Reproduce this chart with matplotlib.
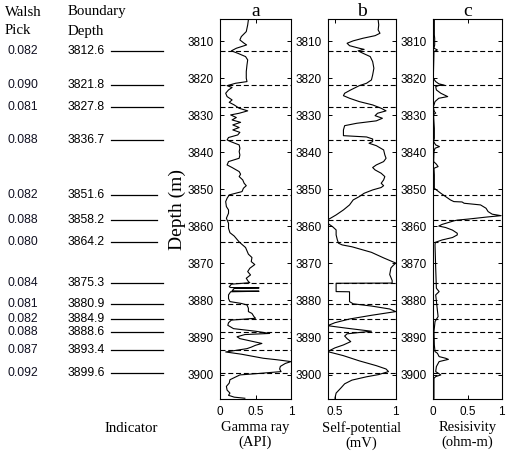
import matplotlib
matplotlib.use("Agg")
import matplotlib.pyplot as plt

# ---------------- data ----------------
boundary_depth = [3812.6, 3821.8, 3827.8, 3836.7, 3851.6, 3858.2, 3864.2,
                  3875.3, 3880.9, 3884.9, 3888.6, 3893.4, 3899.6]
walsh_pick = ["0.082", "0.090", "0.081", "0.088", "0.082", "0.088", "0.080",
              "0.084", "0.081", "0.082", "0.088", "0.087", "0.092"]

gamma_depth = [3804.2, 3805.6, 3807.4, 3808.75, 3809.65, 3810.55, 3811.0, 3811.9, 3812.6, 3813.25,
               3814.15, 3815.05, 3816.4, 3818.2, 3820.0, 3820.9, 3821.35, 3822.0, 3822.5, 3823.15,
               3824.05, 3824.95, 3825.85, 3826.5, 3827.2, 3828.1, 3828.8, 3829.45, 3829.9, 3830.6,
               3831.25, 3831.9, 3832.6, 3833.3, 3833.95, 3834.6, 3835.3, 3836.0, 3836.65, 3837.1,
               3838.0, 3838.9, 3839.8, 3840.7, 3841.6, 3842.5, 3843.4, 3844.1, 3844.75, 3845.2,
               3845.9, 3846.55, 3847.45, 3848.35, 3849.0, 3849.7, 3850.6, 3851.5, 3852.4, 3853.3,
               3854.65, 3855.55, 3856.45, 3857.8, 3859.15, 3860.5, 3861.7, 3862.6, 3863.5, 3864.2,
               3865.7, 3867.5, 3868.4, 3869.5, 3870.3, 3871.3, 3872.2, 3873.1, 3874.0, 3874.9,
               3875.2, 3875.6, 3876.3, 3876.5, 3876.6, 3876.75, 3877.4, 3877.5, 3877.65, 3878.5,
               3879.5, 3880.3, 3880.8, 3881.2, 3882.1, 3883.0, 3883.5, 3884.4, 3884.8, 3885.3,
               3886.0, 3886.7, 3887.6, 3888.3, 3888.9, 3889.2, 3889.8, 3890.3, 3890.8, 3891.6,
               3892.1, 3892.6, 3893.0, 3893.4, 3893.9, 3894.5, 3895.6, 3896.0, 3896.5, 3897.0,
               3897.8, 3898.5, 3899.2, 3899.7, 3900.1, 3901.4, 3902.3, 3903.2, 3904.2, 3905.0,
               3905.6, 3906.1, 3906.4]
gamma_val = [0.40, 0.39, 0.37, 0.30, 0.28, 0.34, 0.375, 0.23, 0.16, 0.25,
             0.36, 0.39, 0.38, 0.37, 0.37, 0.38, 0.22, 0.10, 0.17, 0.12,
             0.08, 0.10, 0.17, 0.13, 0.20, 0.27, 0.39, 0.27, 0.15, 0.23,
             0.17, 0.29, 0.18, 0.27, 0.18, 0.28, 0.25, 0.12, 0.10, 0.15,
             0.27, 0.28, 0.27, 0.28, 0.27, 0.12, 0.10, 0.17, 0.23, 0.27,
             0.29, 0.27, 0.32, 0.34, 0.37, 0.33, 0.31, 0.13, 0.10, 0.08,
             0.09, 0.12, 0.12, 0.09, 0.12, 0.12, 0.14, 0.20, 0.24, 0.27,
             0.36, 0.40, 0.45, 0.44, 0.49, 0.42, 0.39, 0.43, 0.37, 0.40,
             0.42, 0.16, 0.13, 0.15, 0.55, 0.20, 0.17, 0.55, 0.15, 0.12,
             0.12, 0.14, 0.30, 0.38, 0.40, 0.40, 0.45, 0.48, 0.50, 0.16,
             0.12, 0.11, 0.19, 0.50, 0.70, 0.35, 0.24, 0.28, 0.40, 0.59,
             0.50, 0.44, 0.38, 0.25, 0.08, 0.30, 0.61, 0.80, 1.00, 0.92,
             0.85, 0.84, 0.86, 0.55, 0.28, 0.14, 0.13, 0.09, 0.10, 0.14,
             0.12, 0.20, 0.35]

sp_depth = [3804.2, 3805.6, 3806.95, 3807.85, 3808.5, 3809.2, 3809.9, 3810.55, 3811.2, 3811.9,
            3812.2, 3812.6, 3813.25, 3814.15, 3815.5, 3817.3, 3819.1, 3820.45, 3821.35, 3822.0,
            3823.15, 3824.05, 3824.7, 3825.4, 3826.3, 3827.2, 3828.1, 3828.8, 3829.45, 3830.1,
            3830.8, 3831.5, 3832.15, 3832.8, 3833.95, 3835.5, 3835.85, 3836.4, 3837.1, 3837.55,
            3838.2, 3839.35, 3840.7, 3841.6, 3842.5, 3843.4, 3844.1, 3844.75, 3845.65, 3846.55,
            3847.45, 3848.35, 3849.0, 3849.5, 3850.15, 3851.05, 3851.95, 3852.85, 3854.2, 3855.55,
            3856.9, 3858.25, 3859.15, 3860.05, 3860.95, 3862.3, 3863.65, 3864.55, 3865.0, 3865.5,
            3867.0, 3868.5, 3869.9, 3870.5, 3871.2, 3873.0, 3874.6, 3875.3, 3875.35, 3877.6,
            3877.65, 3880.3, 3880.9, 3881.5, 3882.3, 3883.0, 3884.0, 3885.0, 3886.0, 3886.8,
            3887.5, 3888.3, 3889.0, 3889.6, 3890.3, 3891.1, 3892.0, 3892.8, 3893.8, 3894.9,
            3896.3, 3897.6, 3898.5, 3899.2, 3900.0, 3900.6, 3901.5, 3902.5, 3903.6, 3905.0,
            3906.4]
sp_val = [0.855, 0.86, 0.855, 0.87, 0.83, 0.73, 0.65, 0.60, 0.62, 0.70,
          0.74, 0.69, 0.73, 0.79, 0.81, 0.82, 0.81, 0.80, 0.76, 0.70,
          0.63, 0.58, 0.57, 0.62, 0.70, 0.81, 0.88, 0.92, 0.85, 0.83,
          0.89, 0.84, 0.68, 0.58, 0.57, 0.57, 0.76, 0.81, 0.81, 0.78,
          0.84, 0.90, 0.91, 0.92, 0.90, 0.84, 0.81, 0.83, 0.88, 0.91,
          0.90, 0.88, 0.90, 0.88, 0.81, 0.74, 0.70, 0.65, 0.62, 0.57,
          0.51, 0.44, 0.44, 0.48, 0.51, 0.51, 0.52, 0.53, 0.56, 0.64,
          0.80, 0.90, 1.00, 0.98, 0.96, 0.95, 0.97, 0.97, 0.51, 0.51,
          0.62, 0.62, 0.65, 0.80, 0.95, 1.00, 0.80, 0.62, 0.50, 0.44,
          0.60, 0.80, 0.60, 0.58, 0.60, 0.63, 0.57, 0.50, 0.44, 0.57,
          0.70, 0.84, 0.92, 0.94, 0.86, 0.76, 0.64, 0.58, 0.55, 0.51,
          0.50]

res_depth = [3804.2, 3808.3, 3809.2, 3811.0, 3811.9, 3812.35, 3812.8, 3820.0, 3820.9, 3821.5,
             3821.85, 3821.95, 3822.25, 3823.15, 3824.05, 3824.95, 3825.4, 3826.3, 3827.2, 3827.75,
             3829.0, 3829.4, 3829.7, 3830.35, 3833.5, 3836.2, 3837.1, 3838.0, 3838.45, 3838.9,
             3839.8, 3842.5, 3843.2, 3843.85, 3844.3, 3846.1, 3849.7, 3850.15, 3851.05, 3851.95,
             3852.85, 3853.3, 3853.4, 3853.75, 3854.2, 3855.1, 3856.0, 3856.7, 3857.1, 3857.45,
             3858.0, 3858.3, 3858.5, 3858.9, 3859.45, 3859.9, 3860.3, 3861.0, 3861.85, 3862.3,
             3863.0, 3863.65, 3864.3, 3865.0, 3871.3, 3876.7, 3877.6, 3878.5, 3884.35, 3885.7,
             3888.4, 3892.0, 3893.8, 3894.25, 3895.15, 3895.6, 3895.9, 3896.5, 3897.85, 3899.2,
             3900.1, 3900.55, 3901.0, 3906.4]
res_val = [0.015, 0.015, 0.02, 0.02, 0.01, 0.06, 0.01, 0.0, 0.035, 0.08,
           0.16, 0.08, 0.035, 0.045, 0.11, 0.21, 0.08, 0.025, 0.01, 0.0,
           0.015, 0.035, 0.01, 0.005, 0.015, 0.015, 0.005, 0.035, 0.09, 0.025,
           0.01, 0.005, 0.045, 0.07, 0.01, 0.015, 0.015, 0.045, 0.11, 0.18,
           0.25, 0.30, 0.42, 0.45, 0.69, 0.77, 0.80, 0.86, 0.99, 0.79,
           0.52, 0.35, 0.30, 0.23, 0.13, 0.08, 0.18, 0.28, 0.35, 0.35,
           0.28, 0.13, 0.03, 0.025, 0.035, 0.045, 0.085, 0.035, 0.07, 0.025,
           0.01, 0.015, 0.025, 0.06, 0.085, 0.18, 0.22, 0.085, 0.045, 0.035,
           0.11, 0.035, 0.01, 0.01]

panel_titles = ["a", "b", "c"]
panel_xlabels = ["Gamma ray\n(API)", "Self-potential\n(mV)", "Resisivity\n(ohm-m)"]
panel_xticks = [[0, 0.5, 1], [0.5, 1], [0, 0.5, 1]]
panel_xtick_labels = [["0", "0.5", "1"], ["0.5", "1"], ["0", "0.5", "1"]]
panel_xlims = [(0, 1), (0.44, 1), (0, 1)]
depth_ticks = [3810, 3820, 3830, 3840, 3850, 3860, 3870, 3880, 3890, 3900]
depth_lim = (3906.6, 3804.0)

# ---------------- figure ----------------
W, H = 507, 457
fig = plt.figure(figsize=(W / 100, H / 100), dpi=100)
SERIF = "Liberation Serif"
SANS = "Liberation Sans"
plt.rcParams["lines.scale_dashes"] = False

bottom = 1 - 399 / H
height = (399 - 19) / H
lefts = [220 / W, 327.6 / W, 433.3 / W]
widths = [71 / W, 68.2 / W, 68.5 / W]

series = [(gamma_val, gamma_depth), (sp_val, sp_depth), (res_val, res_depth)]

axes = []
for i in range(3):
    ax = fig.add_axes([lefts[i], bottom, widths[i], height])
    vals, deps = series[i]
    ax.plot(vals, deps, color="black", lw=0.8)
    for d in boundary_depth:
        ax.axhline(d, color="black", lw=0.8, linestyle=(0, (3.6, 2.0)))
    ax.set_xlim(*panel_xlims[i])
    ax.set_ylim(*depth_lim)
    ax.set_yticks(depth_ticks)
    ax.set_yticklabels([str(t) for t in depth_ticks], fontfamily=SANS, fontsize=8.5)
    ax.set_xticks(panel_xticks[i])
    ax.set_xticklabels(panel_xtick_labels[i], fontfamily=SANS, fontsize=8.5)
    ax.tick_params(axis="both", direction="in", length=3, width=0.7,
                   top=True, right=True, colors="black")
    ax.tick_params(axis="y", pad=4.5)
    ax.tick_params(axis="x", pad=5)
    for s in ax.spines.values():
        s.set_linewidth(0.8)
    ax.set_title(panel_titles[i], fontfamily=SERIF, fontsize=14, pad=2)
    ax.set_xlabel(panel_xlabels[i], fontfamily=SERIF, fontsize=10.5,
                  labelpad=2, linespacing=1.2)
    axes.append(ax)

axes[0].set_ylabel("Depth (m)", fontfamily=SERIF, fontsize=14, labelpad=1)

# ---------------- left indicator column ----------------
ax0 = fig.add_axes([0, bottom, 220 / W, height])
ax0.set_xlim(0, 220)
ax0.set_ylim(*depth_lim)
ax0.axis("off")
for d, w in zip(boundary_depth, walsh_pick):
    ax0.text(8, d, w, fontfamily=SANS, fontsize=8.7, ha="left", va="center",
             color="#111122", clip_on=False)
    ax0.text(68, d, f"{d:.1f}", fontfamily=SANS, fontsize=8.7, ha="left",
             va="center", color="black", clip_on=False)
    x_end = 157 if 3845 < d < 3870 else 163
    ax0.plot([111, x_end], [d, d], color="black", lw=0.9, clip_on=False)

fig.text(5 / W, 1 - 12 / H, "Walsh", fontfamily=SERIF, fontsize=10.7, va="center", ha="left")
fig.text(5 / W, 1 - 31 / H, "Pick", fontfamily=SERIF, fontsize=10.7, va="center", ha="left")
fig.text(68 / W, 1 - 12 / H, "Boundary", fontfamily=SERIF, fontsize=10.7, va="center", ha="left")
fig.text(68 / W, 1 - 31 / H, "Depth", fontfamily=SERIF, fontsize=10.7, va="center", ha="left")
fig.text(131.5 / W, 1 - 428 / H, "Indicator", fontfamily=SERIF, fontsize=10.7,
         va="center", ha="center")

fig.savefig("out.png", dpi=100)
